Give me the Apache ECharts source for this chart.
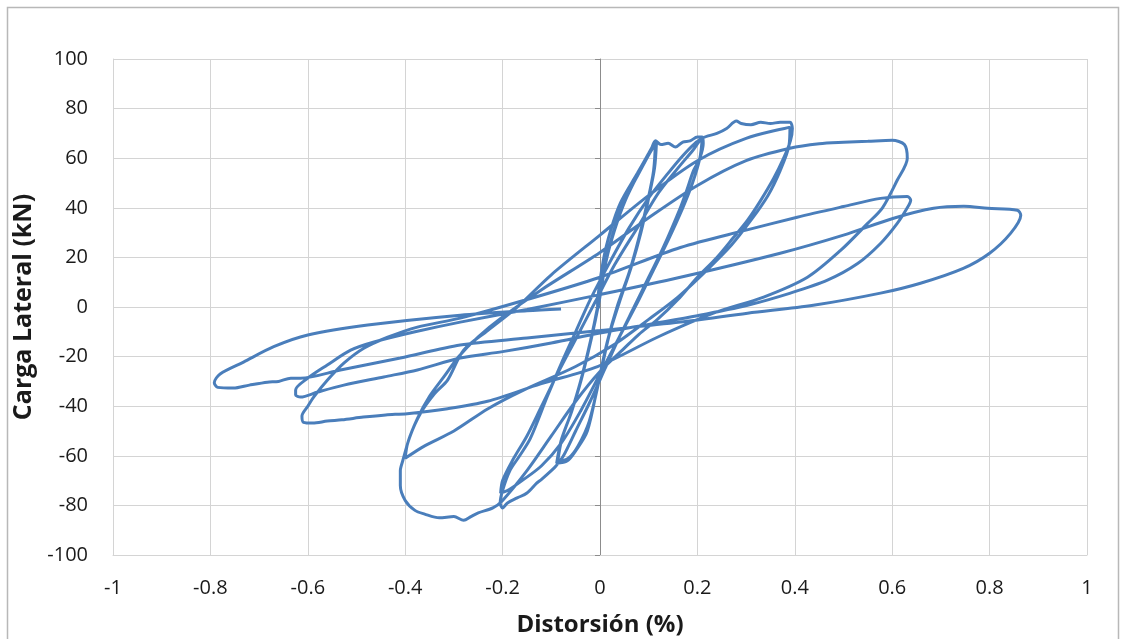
<!DOCTYPE html>
<html>
<head>
<meta charset="utf-8">
<script src="https://cdn.jsdelivr.net/npm/echarts@6/dist/echarts.min.js"></script>
<style>html,body{margin:0;padding:0;background:#fff}#c{width:1123px;height:639px}</style>
</head>
<body>
<div id="c"></div>
<script>
// Axis ticks
const xTicks = [-1, -0.8, -0.6, -0.4, -0.2, 0, 0.2, 0.4, 0.6, 0.8, 1];
const yTicks = [-100, -80, -60, -40, -20, 0, 20, 40, 60, 80, 100];

// Hysteresis branches [drift %, load kN], in test order
const cyc01Up   = [[0,0],[-0.005,0.5],[0.007,19],[0.022,31],[0.042,42],[0.077,54],[0.1,62],[0.114,67]];
const cyc01Down = [[0.11,55],[0.097,42],[0.08,28],[0.06,14],[0.035,0],[0.015,-14],[-0.003,-30],[-0.026,-50],[-0.05,-58],[-0.067,-62],[-0.089,-63]];
const cyc02Up   = [[-0.08,-54],[-0.06,-43],[-0.04,-30],[-0.02,-14],[-0.005,0],[0.01,17],[0.027,30],[0.048,42],[0.08,54],[0.102,62],[0.116,66.5]];
const cyc02Down = [[0.112,56],[0.1,44],[0.084,30],[0.064,16],[0.04,2],[0.018,-12],[0.0,-28],[-0.022,-46],[-0.045,-56],[-0.065,-61],[-0.087,-62.5]];
const cyc03Up   = [[-0.078,-53],[-0.058,-42],[-0.038,-29],[-0.018,-13],[-0.002,2],[0.012,18],[0.03,31],[0.052,43],[0.082,55],[0.104,63],[0.114,67]];
const cyc04Top  = [[0.125,65.5],[0.14,66],[0.155,64.5],[0.17,66.5],[0.185,67],[0.2,68.5],[0.21,68.5],[0.212,66]];
const cyc04Down = [[0.205,60],[0.192,55],[0.178,47],[0.165,40],[0.13,24],[0.1,12],[0.07,0],[0.04,-12],[0.01,-25],[-0.02,-38],[-0.05,-50],[-0.075,-60],[-0.09,-64],[-0.1,-66],[-0.12,-69.5],[-0.13,-71],[-0.15,-75],[-0.17,-77],[-0.19,-79],[-0.2,-81],[-0.205,-79]];
const cyc04Up   = [[-0.2,-74],[-0.185,-66],[-0.165,-60],[-0.143,-53],[-0.108,-36],[-0.08,-23],[-0.05,-10],[-0.02,3],[0.02,18],[0.06,32],[0.1,44],[0.14,54],[0.17,61],[0.195,66],[0.21,68]];
const cyc05Down = [[0.205,60],[0.19,50],[0.17,40],[0.14,27],[0.11,15],[0.08,3],[0.04,-12],[0,-27],[-0.04,-42],[-0.08,-55],[-0.12,-64],[-0.16,-70],[-0.19,-74],[-0.204,-75]];
const cyc05Up   = [[-0.2,-70],[-0.18,-62],[-0.15,-52],[-0.12,-40],[-0.09,-28],[-0.05,-13],[-0.01,2],[0.03,17],[0.08,33],[0.12,46],[0.16,56],[0.19,63],[0.21,68]];
const cyc06Top  = [[0.24,70],[0.26,72],[0.28,75],[0.29,74],[0.31,73.5],[0.33,74.5],[0.35,74],[0.37,74.5],[0.39,74.5],[0.395,72]];
const cyc06Down = [[0.391,67],[0.377,60],[0.357,52],[0.33,43],[0.303,35],[0.274,28],[0.24,20],[0.2,12],[0.16,3],[0.118,-5],[0.08,-11],[0.048,-17],[0,-26],[-0.05,-38],[-0.1,-52],[-0.15,-66],[-0.2,-78],[-0.22,-81],[-0.25,-83],[-0.265,-84.5],[-0.28,-86],[-0.3,-84.5],[-0.33,-85],[-0.36,-83.5],[-0.38,-82],[-0.4,-78],[-0.41,-72],[-0.41,-66],[-0.405,-62]];
const cyc06Up   = [[-0.39,-52],[-0.369,-43],[-0.34,-35],[-0.313,-29.5],[-0.28,-17.4],[-0.23,-9.4],[-0.17,0],[-0.1,13],[0,29],[0.1,45],[0.2,59],[0.3,68],[0.39,72.5]];
const cyc07Down = [[0.388,65],[0.37,55],[0.345,45],[0.31,35],[0.27,25],[0.22,15],[0.16,4],[0.1,-5],[0.03,-15],[-0.05,-24],[-0.157,-33.5],[-0.23,-41],[-0.3,-50],[-0.36,-56],[-0.4,-61]];
const cyc07Up   = [[-0.395,-55],[-0.375,-45],[-0.35,-36],[-0.32,-28],[-0.29,-20],[-0.25,-12],[-0.2,-4],[-0.12,7],[0,22],[0.1,36],[0.2,49],[0.3,59],[0.39,64],[0.45,65.8],[0.5,66.4],[0.55,66.8],[0.6,67.2],[0.625,65.5],[0.631,60]];
const cyc08Down = [[0.61,51],[0.58,40],[0.549,33.6],[0.494,22.8],[0.426,12],[0.336,4],[0.233,-2.5],[0.12,-12],[-0.005,-24],[-0.122,-31],[-0.231,-38],[-0.313,-41],[-0.396,-43],[-0.44,-43.5],[-0.486,-44.4],[-0.53,-45.5],[-0.56,-46],[-0.59,-46.8],[-0.609,-46.5],[-0.612,-44]];
const cyc08Up   = [[-0.6,-40],[-0.588,-36.3],[-0.56,-29.5],[-0.526,-22.6],[-0.485,-16.6],[-0.436,-12.2],[-0.375,-8.1],[-0.287,-4.5],[-0.15,3],[0,12],[0.165,24],[0.3,31],[0.405,36.2],[0.5,40.5],[0.576,43.8],[0.631,44.6],[0.638,43]];
const cyc09Down = [[0.631,40],[0.61,33.6],[0.576,25.6],[0.529,17.5],[0.467,10.8],[0.391,5.6],[0.303,0.7],[0.2,-3.5],[0.1,-7],[0,-10.5],[-0.1,-14.5],[-0.2,-18],[-0.287,-20.6],[-0.375,-25.4],[-0.444,-28.2],[-0.526,-31.5],[-0.58,-34.3],[-0.615,-36.3],[-0.625,-35.5],[-0.625,-33.5]];
const cyc09Up   = [[-0.6,-28.7],[-0.56,-23.4],[-0.512,-17.4],[-0.464,-14.1],[-0.382,-10.1],[-0.287,-6.1],[-0.15,-1],[0,5],[0.165,12],[0.37,21.7],[0.5,29],[0.603,35.8],[0.685,39.8],[0.747,40.6],[0.796,39.8],[0.857,39],[0.864,37]];
const cyc10Down = [[0.843,29.7],[0.8,21.7],[0.746,15.6],[0.658,9.6],[0.576,5.6],[0.438,0.7],[0.303,-2.5],[0.165,-6.1],[0,-9.5],[-0.15,-12.5],[-0.287,-15.3],[-0.41,-20.6],[-0.533,-25.4],[-0.615,-28.7],[-0.635,-28.7],[-0.66,-30],[-0.683,-30.3],[-0.72,-31.5],[-0.753,-32.7],[-0.785,-32.4],[-0.792,-30.5]];
const cyc10Up   = [[-0.78,-27],[-0.732,-22.2],[-0.67,-16],[-0.6,-11.3],[-0.477,-7.3],[-0.287,-3.3],[-0.15,-1.5],[-0.08,-0.8]];

const branches = [cyc01Up, cyc01Down, cyc02Up, cyc02Down, cyc03Up, cyc04Top, cyc04Down, cyc04Up,
  cyc05Down, cyc05Up, cyc06Top, cyc06Down, cyc06Up, cyc07Down, cyc07Up, cyc08Down, cyc08Up,
  cyc09Down, cyc09Up, cyc10Down, cyc10Up];
const curve = [].concat(...branches);

const FONT = '"Open Sans", "Noto Sans", sans-serif';
const chart = echarts.init(document.getElementById('c'), null, {renderer: 'canvas'});
chart.setOption({
  animation: false,
  backgroundColor: '#ffffff',
  graphic: [{
    type: 'rect', silent: true, z: -1,
    shape: {x: 7.5, y: 7.5, width: 1111, height: 640},
    style: {fill: 'none', stroke: '#b8b8b8', lineWidth: 1.5}
  }],
  grid: {left: 113, right: 36, top: 59, bottom: 84, containLabel: false, outerBoundsMode: 'none'},
  xAxis: {
    type: 'value', min: xTicks[0], max: xTicks[xTicks.length - 1], interval: 0.2,
    name: 'Distorsión (%)', nameLocation: 'middle', nameGap: 58,
    nameTextStyle: {fontFamily: FONT, fontSize: 24, fontWeight: 'bold', color: '#1a1a1a'},
    axisLine: {onZero: false, lineStyle: {color: '#d4d4d4', width: 1}},
    axisTick: {show: false},
    axisLabel: {fontFamily: FONT, fontSize: 20, color: '#1a1a1a', margin: 23,
      formatter: v => String(Math.round(v * 10) / 10)},
    splitLine: {show: true, lineStyle: {color: '#d4d4d4', width: 1}}
  },
  yAxis: [{
    type: 'value', min: yTicks[0], max: yTicks[yTicks.length - 1], interval: 20,
    name: 'Carga Lateral (kN)', nameLocation: 'middle', nameGap: 60, nameRotate: 90,
    nameTextStyle: {fontFamily: FONT, fontSize: 25, fontWeight: 'bold', color: '#1a1a1a'},
    axisLine: {show: true, onZero: false, lineStyle: {color: '#d4d4d4', width: 1}},
    axisTick: {show: false},
    axisLabel: {fontFamily: FONT, fontSize: 20, color: '#1a1a1a', margin: 25},
    splitLine: {show: true, lineStyle: {color: '#d4d4d4', width: 1}}
  }, {
    type: 'value', min: yTicks[0], max: yTicks[yTicks.length - 1], interval: 20,
    position: 'left',
    axisLine: {show: true, onZero: true, lineStyle: {color: '#8c8c8c', width: 1}},
    axisTick: {show: true, length: 5, lineStyle: {color: '#8c8c8c'}},
    axisLabel: {show: false},
    splitLine: {show: false}
  }],
  series: [{
    type: 'line', data: curve, xAxisIndex: 0, yAxisIndex: 0,
    showSymbol: false, smooth: 0.3,
    lineStyle: {color: '#4A7EBB', width: 3},
    z: 5
  }]
});
</script>
</body>
</html>
